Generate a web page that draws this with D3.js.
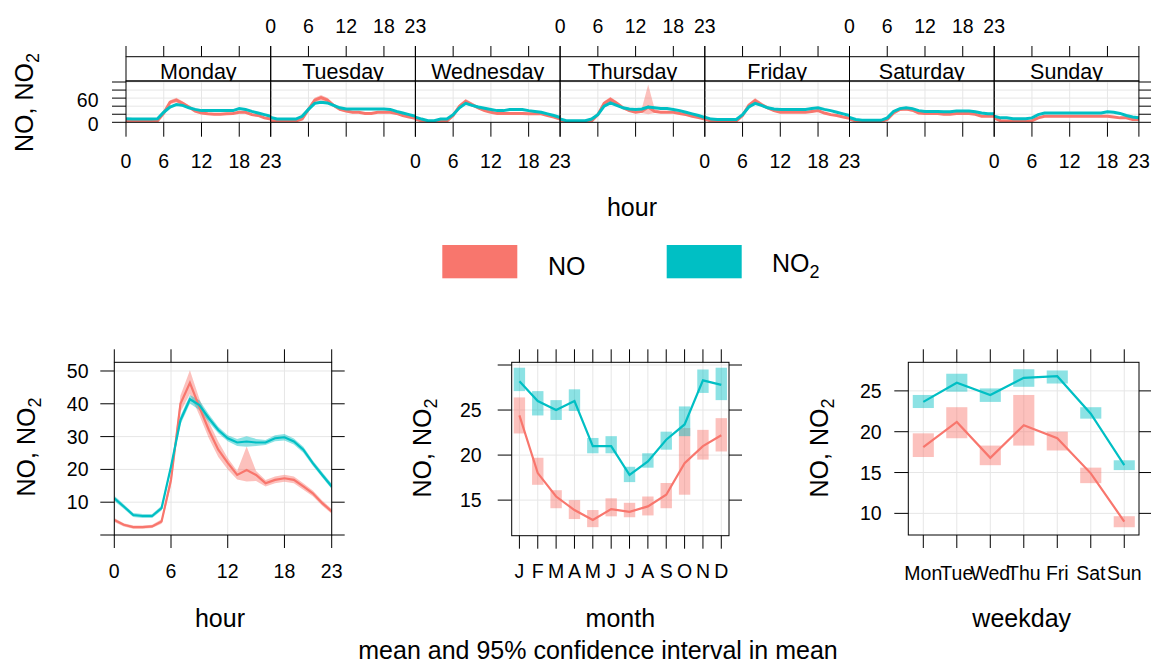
<!DOCTYPE html>
<html><head><meta charset="utf-8">
<script src="https://cdn.jsdelivr.net/npm/d3@7"></script>
<style>
body{margin:0;background:#fff}
text{font-family:"Liberation Sans",Arial,sans-serif;fill:#000}
</style>
</head><body>
<svg id="chart" width="1151" height="666"></svg>
<script>
// ---------------- DATA ----------------
const pollutants = ["NO", "NO2"];
const seriesColors = ["#F8766D", "#00BFC4"];
const dayNames = ["Monday","Tuesday","Wednesday","Thursday","Friday","Saturday","Sunday"];
const hourTicks = [0, 6, 12, 18, 23];
const weekYTicks = [0, 20, 40, 60, 80, 100];
const weekYLabels = [0, 60];

// hour-of-week means (one row per day, hours 0..23)
const weekNO = [
 [4,4,3,3,3,4,23,50,55,47,38,28,23,21,20,20,21,22,25,25,19,17,11,8],
 [4,3,3,3,3,8,32,55,61,55,42,32,28,25,25,22,22,25,25,25,22,17,13,10],
 [8,3,2,2,2,3,17,40,52,44,36,29,25,22,22,22,22,22,21,21,21,17,13,8],
 [4,2,2,2,2,3,19,47,57,47,36,29,25,27,38,27,25,25,25,22,19,15,12,8],
 [8,3,2,2,2,3,17,42,54,44,36,29,25,25,25,25,25,27,29,23,19,17,13,10],
 [8,3,2,2,2,2,7,23,32,33,30,23,22,22,22,20,20,22,22,22,20,15,15,15],
 [11,4,3,3,3,3,4,11,15,15,15,15,15,15,15,15,15,15,15,13,11,11,7,7]
];
const weekNOciHi = [
 [1.5,1.5,1.5,1.5,1.5,1.5,3,5,6,5,3.5,2.5,2,2,2,2,2,2,2.5,2.5,2,2,1.5,1.5],
 [1.5,1.5,1.5,1.5,1.5,2,4,6,7,6,4,3,2.5,2.5,2,2,2,2,2.5,2.5,2,2,1.5,1.5],
 [1.5,1.5,1.5,1.5,1.5,1.5,3,5,6,5,3.5,2.5,2,2,2,2,2,2,2,2,2,2,1.5,1.5],
 [1.5,1.5,1.5,1.5,1.5,1.5,3,5,6,5,3.5,2.5,2,8,56,8,2,2,2,2,2,2,1.5,1.5],
 [1.5,1.5,1.5,1.5,1.5,1.5,3,5,6,5,3.5,2.5,2,2,2,2,2,2,2.5,2.5,2,2,1.5,1.5],
 [1.5,1.5,1.5,1.5,1.5,1.5,2,3,3.5,3.5,3,2.5,2,2,2,2,2,2,2,2,2,2,1.5,1.5],
 [1.5,1.5,1,1,1,1,1,1.5,2,2,2,2,2,2,2,2,2,2,2,2,1.5,1.5,1.5,1.5]
];
const weekNOciLo = [
 [1.5,1.5,1.5,1.5,1.5,1.5,3,5,6,5,3.5,2.5,2,2,2,2,2,2,2.5,2.5,2,2,1.5,1.5],
 [1.5,1.5,1.5,1.5,1.5,2,4,6,7,6,4,3,2.5,2.5,2,2,2,2,2.5,2.5,2,2,1.5,1.5],
 [1.5,1.5,1.5,1.5,1.5,1.5,3,5,6,5,3.5,2.5,2,2,2,2,2,2,2,2,2,2,1.5,1.5],
 [1.5,1.5,1.5,1.5,1.5,1.5,3,5,6,5,3.5,2.5,2,4,18,4,2,2,2,2,2,2,1.5,1.5],
 [1.5,1.5,1.5,1.5,1.5,1.5,3,5,6,5,3.5,2.5,2,2,2,2,2,2,2.5,2.5,2,2,1.5,1.5],
 [1.5,1.5,1.5,1.5,1.5,1.5,2,3,3.5,3.5,3,2.5,2,2,2,2,2,2,2,2,2,2,1.5,1.5],
 [1.5,1.5,1,1,1,1,1,1.5,2,2,2,2,2,2,2,2,2,2,2,2,1.5,1.5,1.5,1.5]
];
const weekNO2 = [
 [9,8,8,8,8,9,25,38,44,42,36,32,29,29,29,29,29,29,34,32,27,23,19,15],
 [12,8,8,8,8,15,32,47,50,48,42,36,33,33,33,33,33,33,33,32,27,23,19,15],
 [13,8,4,4,8,8,19,36,47,42,38,35,32,29,29,32,32,32,29,27,25,21,17,12],
 [8,4,4,4,4,8,19,40,48,42,36,33,32,33,38,36,34,34,32,29,25,21,17,12],
 [13,8,7,7,7,7,19,38,47,42,36,33,32,32,32,32,32,34,36,32,29,25,21,17],
 [12,7,5,5,5,5,11,27,34,36,34,29,27,27,27,26,26,28,28,28,26,23,21,21],
 [15,11,11,9,9,9,11,19,23,23,23,23,23,23,23,23,23,23,26,25,22,17,13,11]
];
const weekNO2ci = [
 [1.2,1.2,1.2,1.2,1.2,1.2,2,2.5,2.5,2.5,2,1.5,1.5,1.5,1.5,1.5,1.5,1.5,1.5,1.5,1.5,1.5,1.2,1.2],
 [1.2,1.2,1.2,1.2,1.2,1.5,2,2.5,2.5,2.5,2,1.5,1.5,1.5,1.5,1.5,1.5,1.5,1.5,1.5,1.5,1.5,1.2,1.2],
 [1.2,1.2,1.2,1.2,1.2,1.2,2,2.5,2.5,2.5,2,1.5,1.5,1.5,1.5,1.5,1.5,1.5,1.5,1.5,1.5,1.5,1.2,1.2],
 [1.2,1.2,1.2,1.2,1.2,1.2,2,2.5,2.5,2.5,2,1.5,1.5,2,3,2,1.5,1.5,1.5,1.5,1.5,1.5,1.2,1.2],
 [1.2,1.2,1.2,1.2,1.2,1.2,2,2.5,2.5,2.5,2,1.5,1.5,1.5,1.5,1.5,1.5,1.5,1.5,1.5,1.5,1.5,1.2,1.2],
 [1.2,1.2,1.2,1.2,1.2,1.2,1.5,2,2,2,2,1.5,1.5,1.5,1.5,1.5,1.5,1.5,1.5,1.5,1.5,1.5,1.2,1.2],
 [1.2,1.2,1.2,1.2,1.2,1.2,1.2,1.5,1.5,1.5,1.5,1.5,1.5,1.5,1.5,1.5,1.5,1.5,1.5,1.5,1.5,1.5,1.2,1.2]
];

// diurnal (hour) panel
const hourVals = [0,1,2,3,4,5,6,7,8,9,10,11,12,13,14,15,16,17,18,19,20,21,22,23];
const hourNO   = [4.6,3.1,2.4,2.4,2.6,4.1,16.8,40,46.4,39,32,26,22,18.3,19.8,18.3,15.8,16.8,17.3,16.8,14.8,12.7,9.7,7.2];
const hourNOhi = [5.2,3.6,2.9,2.9,3.1,4.8,18.5,42.5,50.2,41.5,34.5,28.5,23.5,19.5,27,19.5,16.8,17.8,18.4,17.8,15.8,13.6,10.5,7.9];
const hourNOlo = [4.0,2.6,1.9,1.9,2.1,3.4,15.1,37.5,43,36.5,29.5,23.8,20.0,16.9,16.3,16.5,14.8,15.8,16.2,15.8,13.8,11.8,8.9,6.5];
const hourNO2   = [11.2,8.7,6.1,5.8,5.8,8.2,20.9,35,41.4,39.6,35.6,32,29.5,28.2,28.5,28.2,28.2,29.5,29.8,28.5,26,21.9,18.3,14.8];
const hourNO2hi = [12,9.4,6.7,6.4,6.4,8.9,21.8,36.3,42.7,41.1,36.8,33,30.4,29.3,30.1,29.3,29.0,30.4,30.8,29.4,26.9,22.7,19.1,15.6];
const hourNO2lo = [10.4,8.0,5.5,5.2,5.2,7.5,20.0,33.7,40.1,38.1,34.4,31,28.6,27.1,26.9,27.1,27.4,28.6,28.8,27.6,25.1,21.1,17.5,14.0];
const hourYTicks = [0,10,20,30,40,50];
const hourYLabels = [10,20,30,40,50];

// month panel
const monthLabels = ["J","F","M","A","M","J","J","A","S","O","N","D"];
const monthNO   = [24.4,18.0,15.4,13.9,12.8,14.0,13.7,14.3,15.6,19.1,21.0,22.2];
const monthNOhi = [26.4,19.7,16.1,15.0,13.9,15.2,14.7,15.4,16.9,23.0,22.8,24.1];
const monthNOlo = [22.4,16.7,14.1,12.9,12.0,13.2,13.1,13.3,14.1,15.6,19.5,20.4];
const monthNO2   = [28.2,26.0,25.0,26.0,21.0,21.0,17.8,19.3,21.7,23.4,28.3,27.8];
const monthNO2hi = [29.7,27.1,26.1,27.3,21.9,22.1,18.7,20.2,22.6,25.4,29.5,29.7];
const monthNO2lo = [27.1,24.4,23.9,24.9,20.2,20.2,17.0,18.6,20.6,22.1,26.9,26.1];
const monthYTicks = [15,20,25,30];
const monthYLabels = [15,20,25];

// weekday panel
const weekdayLabels = ["Mon","Tue","Wed","Thu","Fri","Sat","Sun"];
const wdNO   = [18.1,21.2,16.8,20.8,19.2,14.9,9.0];
const wdNOhi = [19.8,23.0,18.3,24.5,20.0,15.6,9.65];
const wdNOlo = [16.9,19.2,15.9,18.3,17.7,13.7,8.3];
const wdNO2   = [23.65,26.0,24.5,26.6,26.8,22.2,15.9];
const wdNO2hi = [24.5,27.1,25.3,27.65,27.5,23.0,16.5];
const wdNO2lo = [22.9,24.9,23.65,25.5,25.9,21.6,15.3];
const wdYTicks = [10,15,20,25];

// ---------------- DRAWING ----------------
const svg = d3.select("#chart");
const TICK_FS = 19.5, TITLE_FS = 25, STRIP_FS = 21.5;
const GRID = "#e6e6e6";
const BAND_OP = 0.45;

function yTitle(bx, cy) {
  const t = svg.append("text")
    .attr("transform", `translate(${bx},${cy}) rotate(-90)`)
    .attr("text-anchor", "middle").attr("font-size", TITLE_FS);
  t.append("tspan").text("NO, NO");
  t.append("tspan").attr("font-size", 18).attr("dy", 6).text("2");
}
function label(x, y, s, fs, anchor) {
  return svg.append("text").attr("x", x).attr("y", y).attr("font-size", fs)
    .attr("text-anchor", anchor || "middle").text(s);
}
let clipId = 0;
function clipRect(x0, y0, x1, y1) {
  const id = "clip" + (clipId++);
  svg.append("clipPath").attr("id", id).append("rect")
    .attr("x", x0).attr("y", y0).attr("width", x1 - x0).attr("height", y1 - y0);
  return "url(#" + id + ")";
}

// ---- top: hour of week ----
const topL = 126, topPW = 144.7, stripTop = 56.7, stripBot = 81, plotBot = 122.3;
const weekY = d3.scaleLinear().domain([0, 102.5]).range([plotBot, stripBot]);

dayNames.forEach((day, i) => {
  const x0 = topL + i * topPW, x1 = x0 + topPW;
  const xs = d3.scaleLinear().domain([0, 23]).range([x0, x1]);
  const g = svg.append("g");
  // grid
  g.selectAll(".gv").data(hourTicks.slice(1, 4)).join("line")
    .attr("x1", d => xs(d)).attr("x2", d => xs(d)).attr("y1", stripBot).attr("y2", plotBot)
    .attr("stroke", GRID).attr("stroke-width", 1);
  g.selectAll(".gh").data(weekYTicks.slice(1)).join("line")
    .attr("x1", x0).attr("x2", x1).attr("y1", d => weekY(d)).attr("y2", d => weekY(d))
    .attr("stroke", GRID).attr("stroke-width", 1);
  const clip = clipRect(x0, stripBot, x1, plotBot);
  const pg = g.append("g").attr("clip-path", clip);
  const series = [
    {m: weekNO[i], lo: weekNO[i].map((v, k) => v - weekNOciLo[i][k]), hi: weekNO[i].map((v, k) => v + weekNOciHi[i][k]), c: seriesColors[0]},
    {m: weekNO2[i], lo: weekNO2[i].map((v, k) => v - weekNO2ci[i][k]), hi: weekNO2[i].map((v, k) => v + weekNO2ci[i][k]), c: seriesColors[1]}
  ];
  series.forEach(s => {
    const area = d3.area().x((d, k) => xs(hourVals[k])).y0((d, k) => weekY(s.lo[k])).y1((d, k) => weekY(s.hi[k]));
    pg.append("path").datum(s.m).attr("d", area).attr("fill", s.c).attr("fill-opacity", BAND_OP);
  });
  series.forEach(s => {
    const line = d3.line().x((d, k) => xs(hourVals[k])).y(d => weekY(d));
    pg.append("path").datum(s.m).attr("d", line).attr("fill", "none").attr("stroke", s.c).attr("stroke-width", 3);
  });
  // frame + strip
  g.append("rect").attr("x", x0).attr("y", stripBot).attr("width", topPW).attr("height", plotBot - stripBot)
    .attr("fill", "none").attr("stroke", "#000").attr("stroke-width", 1);
  g.append("rect").attr("x", x0).attr("y", stripTop).attr("width", topPW).attr("height", stripBot - stripTop)
    .attr("fill", "none").attr("stroke", "#000").attr("stroke-width", 1);
  const sclip = clipRect(x0, stripTop, x1, stripBot);
  g.append("text").attr("clip-path", sclip).attr("x", (x0 + x1) / 2).attr("y", 79)
    .attr("text-anchor", "middle").attr("font-size", STRIP_FS).text(day);
  // ticks top & bottom
  g.selectAll(".tt").data(hourTicks).join("line")
    .attr("x1", d => xs(d)).attr("x2", d => xs(d)).attr("y1", 46).attr("y2", stripTop).attr("stroke", "#000");
  g.selectAll(".tb").data(hourTicks).join("line")
    .attr("x1", d => xs(d)).attr("x2", d => xs(d)).attr("y1", plotBot).attr("y2", 136.7).attr("stroke", "#000");
  if (i % 2 === 1) {
    hourTicks.forEach(h => label(xs(h), 33.3, h, TICK_FS));
  } else {
    hourTicks.forEach(h => label(xs(h), 168.3, h, TICK_FS));
  }
  if (i === 0) {
    g.selectAll(".yl").data(weekYTicks).join("line")
      .attr("x1", x0 - 14).attr("x2", x0).attr("y1", d => weekY(d)).attr("y2", d => weekY(d)).attr("stroke", "#000");
    weekYLabels.forEach(v => label(98.5, weekY(v) + 8.5, v, TICK_FS, "end"));
  }
  if (i === 6) {
    g.selectAll(".yr").data(weekYTicks).join("line")
      .attr("x1", x1).attr("x2", x1 + 13).attr("y1", d => weekY(d)).attr("y2", d => weekY(d)).attr("stroke", "#000");
  }
});
yTitle(33, 102.5);
label(632, 216, "hour", TITLE_FS);

// ---- legend ----
const legItems = [
  {x: 442.3, tx: 548, ty: 275},
  {x: 666.7, tx: 772, ty: 271.7}
];
pollutants.forEach((p, i) => {
  svg.append("rect").attr("x", legItems[i].x).attr("y", 245).attr("width", 75).attr("height", 33.3)
    .attr("fill", seriesColors[i]);
  const t = svg.append("text").attr("x", legItems[i].tx).attr("y", legItems[i].ty).attr("font-size", TITLE_FS);
  if (p === "NO2") {
    t.append("tspan").text("NO");
    t.append("tspan").attr("font-size", 18).attr("dy", 6).text("2");
  } else t.text(p);
});

// ---- bottom panels ----
function bottomPanel(cfg) {
  const {box, xs, ys, xTicks, xLabels, yTicks, yLabels, yLabRight, xLabY, series, kind, bandW} = cfg;
  const g = svg.append("g");
  g.selectAll(".gv").data(xTicks).join("line")
    .attr("x1", d => xs(d)).attr("x2", d => xs(d)).attr("y1", box.y0).attr("y2", box.y1)
    .attr("stroke", GRID);
  g.selectAll(".gh").data(yTicks).join("line")
    .attr("x1", box.x0).attr("x2", box.x1).attr("y1", d => ys(d)).attr("y2", d => ys(d))
    .attr("stroke", GRID);
  const clip = clipRect(box.x0, box.y0, box.x1, box.y1);
  const pg = g.append("g").attr("clip-path", clip);
  series.forEach(s => {
    if (kind === "area") {
      const area = d3.area().x((d, k) => xs(cfg.xVals[k]))
        .y0((d, k) => ys(s.lo[k])).y1((d, k) => ys(s.hi[k]));
      pg.append("path").datum(s.m).attr("d", area).attr("fill", s.c).attr("fill-opacity", BAND_OP);
    } else {
      pg.selectAll(null).data(s.m).join("rect")
        .attr("x", (d, k) => xs(cfg.xVals[k]) - bandW / 2).attr("width", bandW)
        .attr("y", (d, k) => ys(s.hi[k])).attr("height", (d, k) => ys(s.lo[k]) - ys(s.hi[k]))
        .attr("fill", s.c).attr("fill-opacity", BAND_OP);
    }
  });
  series.forEach(s => {
    const line = d3.line().x((d, k) => xs(cfg.xVals[k])).y(d => ys(d));
    pg.append("path").datum(s.m).attr("d", line).attr("fill", "none").attr("stroke", s.c).attr("stroke-width", 2.2);
  });
  g.append("rect").attr("x", box.x0).attr("y", box.y0).attr("width", box.x1 - box.x0).attr("height", box.y1 - box.y0)
    .attr("fill", "none").attr("stroke", "#000");
  g.selectAll(".tt").data(xTicks).join("line")
    .attr("x1", d => xs(d)).attr("x2", d => xs(d)).attr("y1", box.y0 - 13).attr("y2", box.y0).attr("stroke", "#000");
  g.selectAll(".tb").data(xTicks).join("line")
    .attr("x1", d => xs(d)).attr("x2", d => xs(d)).attr("y1", box.y1).attr("y2", box.y1 + 13).attr("stroke", "#000");
  g.selectAll(".yl").data(yTicks).join("line")
    .attr("x1", box.x0 - 14).attr("x2", box.x0).attr("y1", d => ys(d)).attr("y2", d => ys(d)).attr("stroke", "#000");
  g.selectAll(".yr").data(yTicks).join("line")
    .attr("x1", box.x1).attr("x2", box.x1 + 13).attr("y1", d => ys(d)).attr("y2", d => ys(d)).attr("stroke", "#000");
  xTicks.forEach((v, k) => label(xs(v), xLabY, xLabels[k], TICK_FS));
  yLabels.forEach(v => label(yLabRight, ys(v) + 7, v, TICK_FS, "end"));
}

// hour panel
{
  const box = {x0: 114.3, x1: 331.7, y0: 362.3, y1: 535};
  const xs = d3.scaleLinear().domain([0, 23]).range([box.x0, box.x1]);
  const ys = d3.scaleLinear().domain([0, 52.65]).range([box.y1, box.y0]);
  bottomPanel({box, xs, ys, xTicks: hourTicks, xLabels: hourTicks, xVals: hourVals,
    yTicks: hourYTicks, yLabels: hourYLabels, yLabRight: 88.5, xLabY: 578.3, kind: "area",
    series: [
      {m: hourNO, lo: hourNOlo, hi: hourNOhi, c: seriesColors[0]},
      {m: hourNO2, lo: hourNO2lo, hi: hourNO2hi, c: seriesColors[1]}
    ]});
  yTitle(35, 447);
  label((box.x0 + box.x1) / 2 - 3, 626.7, "hour", TITLE_FS);
}
// month panel
{
  const box = {x0: 511.7, x1: 729, y0: 362.3, y1: 535.7};
  const mIdx = monthLabels.map((d, k) => k + 1);
  const xs = d3.scaleLinear().domain([0.58, 12.42]).range([box.x0, box.x1]);
  const ys = d3.scaleLinear().domain([11.05, 30.3]).range([box.y1, box.y0]);
  bottomPanel({box, xs, ys, xTicks: mIdx, xLabels: monthLabels, xVals: mIdx,
    yTicks: monthYTicks, yLabels: monthYLabels, yLabRight: 481.7, xLabY: 578.3, kind: "rect",
    bandW: (xs(2) - xs(1)) * 0.62,
    series: [
      {m: monthNO, lo: monthNOlo, hi: monthNOhi, c: seriesColors[0]},
      {m: monthNO2, lo: monthNO2lo, hi: monthNO2hi, c: seriesColors[1]}
    ]});
  yTitle(431, 448);
  label((box.x0 + box.x1) / 2, 626.7, "month", TITLE_FS);
}
// weekday panel
{
  const box = {x0: 908.3, x1: 1139, y0: 362.3, y1: 535};
  const wIdx = weekdayLabels.map((d, k) => k);
  const xs = d3.scaleLinear().domain([-0.448, 6.44]).range([box.x0, box.x1]);
  const ys = d3.scaleLinear().domain([7.35, 28.5]).range([box.y1, box.y0]);
  bottomPanel({box, xs, ys, xTicks: wIdx, xLabels: weekdayLabels, xVals: wIdx,
    yTicks: wdYTicks, yLabels: wdYTicks, yLabRight: 881.7, xLabY: 580, kind: "rect",
    bandW: (xs(1) - xs(0)) * 0.63,
    series: [
      {m: wdNO, lo: wdNOlo, hi: wdNOhi, c: seriesColors[0]},
      {m: wdNO2, lo: wdNO2lo, hi: wdNO2hi, c: seriesColors[1]}
    ]});
  yTitle(828, 448);
  label(1021.7, 626.7, "weekday", TITLE_FS);
}

label(598, 659, "mean and 95% confidence interval in mean", TITLE_FS);
</script>
</body></html>
